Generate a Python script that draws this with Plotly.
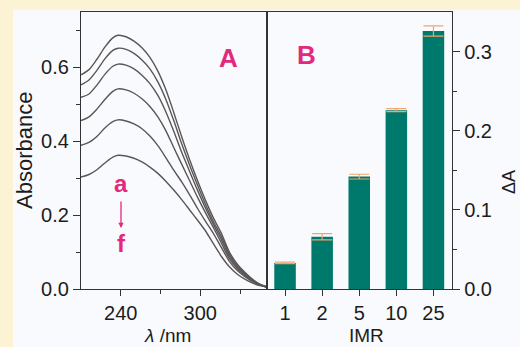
import plotly.graph_objects as go

# ---- data -------------------------------------------------------------
wavelength = [210, 216, 222, 228, 234, 238, 244, 250, 256, 262, 268, 274, 280,
              286, 292, 298, 304, 310, 316, 322, 328, 334, 340, 345, 350]

spec_a = [0.580, 0.594, 0.622, 0.655, 0.680, 0.687, 0.683, 0.671, 0.653, 0.627, 0.590, 0.540, 0.478,
          0.412, 0.350, 0.293, 0.240, 0.192, 0.150, 0.100, 0.067, 0.044, 0.025, 0.013, 0.006]
spec_b = [0.553, 0.566, 0.592, 0.623, 0.646, 0.652, 0.649, 0.638, 0.620, 0.596, 0.561, 0.514, 0.456,
          0.393, 0.335, 0.281, 0.229, 0.182, 0.141, 0.094, 0.063, 0.042, 0.023, 0.012, 0.006]
spec_c = [0.519, 0.528, 0.552, 0.581, 0.603, 0.609, 0.606, 0.596, 0.579, 0.556, 0.524, 0.480, 0.427,
          0.370, 0.318, 0.267, 0.219, 0.175, 0.133, 0.088, 0.059, 0.039, 0.022, 0.012, 0.006]
spec_d = [0.456, 0.466, 0.487, 0.513, 0.535, 0.542, 0.539, 0.530, 0.515, 0.494, 0.466, 0.429, 0.383,
          0.338, 0.293, 0.248, 0.206, 0.166, 0.124, 0.082, 0.055, 0.036, 0.020, 0.011, 0.005]
spec_e = [0.389, 0.397, 0.413, 0.436, 0.453, 0.458, 0.455, 0.447, 0.434, 0.414, 0.388, 0.356, 0.322,
          0.290, 0.255, 0.218, 0.183, 0.150, 0.112, 0.075, 0.050, 0.033, 0.019, 0.011, 0.005]
spec_f = [0.303, 0.310, 0.323, 0.341, 0.357, 0.362, 0.360, 0.354, 0.344, 0.330, 0.313, 0.292, 0.268,
          0.242, 0.214, 0.186, 0.157, 0.122, 0.088, 0.060, 0.040, 0.026, 0.015, 0.009, 0.005]
spectra = [spec_a, spec_b, spec_c, spec_d, spec_e, spec_f]

imr_labels = ["1", "2", "5", "10", "25"]
delta_a = [0.033, 0.066, 0.142, 0.226, 0.326]
delta_a_err = [0.001, 0.004, 0.003, 0.002, 0.0065]

# ---- styling ------------------------------------------------------------
W, H = 520, 347
ML, MR, MT, MB = 81, 68, 12, 58
PW, PH = W - ML - MR, H - MT - MB

FONT = "Liberation Sans, Arial, sans-serif"
AXIS_COL = "#333333"
LINE_COL = "#5b5656"
BAR_COL = "#00796d"
ERR_COL = "#f2a56c"
PINK = "#e4287c"
CREAM = "#fcf2d4"
WHITE = "#f8fafd"


def px_x(px):
    return (px - ML) / PW


def px_y(py):
    return (H - MB - py) / PH


fig = go.Figure()

for ys in spectra:
    fig.add_trace(go.Scatter(
        x=wavelength, y=ys, mode="lines", xaxis="x", yaxis="y",
        line=dict(color=LINE_COL, width=1.4, shape="spline", smoothing=0.8),
        showlegend=False, hoverinfo="skip",
    ))

fig.add_trace(go.Bar(
    x=imr_labels, y=delta_a, xaxis="x2", yaxis="y2", width=0.58,
    marker=dict(color=BAR_COL, line=dict(width=0)),
    error_y=dict(type="data", array=delta_a_err, color=ERR_COL, thickness=1.2, width=10),
    showlegend=False,
))

tick_font = dict(family=FONT, size=20, color="#1c1c1c")
common_axis = dict(showline=True, linecolor=AXIS_COL, linewidth=1.3, mirror=True,
                   ticks="outside", tickcolor=AXIS_COL, tickwidth=1.3, ticklen=7,
                   showgrid=False, zeroline=False, tickfont=tick_font)
bottom_axis = dict(common_axis, ticklen=6)
minor_style = dict(ticks="outside", ticklen=4, tickcolor=AXIS_COL, tickwidth=1.1)

fig.update_layout(
    width=W, height=H,
    margin=dict(l=ML, r=MR, t=MT, b=MB, pad=0),
    paper_bgcolor=CREAM, plot_bgcolor=WHITE,
    xaxis=dict(domain=[0, 0.5], anchor="y", range=[210, 350],
               tickvals=[240, 300],
               minor=dict(tickvals=[270, 330], **minor_style),
               **bottom_axis),
    yaxis=dict(domain=[0, 1], anchor="x", range=[0, 0.75],
               tickvals=[0, 0.2, 0.4, 0.6], tickformat=".1f",
               minor=dict(tickvals=[0.1, 0.3, 0.5, 0.7], **minor_style),
               **common_axis),
    xaxis2=dict(domain=[0.5, 1], anchor="y2", range=[-0.5, 4.5],
                type="category", **bottom_axis),
    yaxis2=dict(domain=[0, 1], anchor="x2", side="right", range=[0, 0.35],
                tickvals=[0, 0.1, 0.2, 0.3], tickformat=".1f",
                minor=dict(tickvals=[0.05, 0.15, 0.25], **minor_style),
                **common_axis),
)

# white page area inside the cream border strips
fig.add_shape(type="rect", xref="paper", yref="paper", layer="below",
              x0=px_x(13), x1=px_x(W + 5), y0=px_y(H + 5), y1=px_y(10),
              fillcolor=WHITE, line=dict(width=0))

ann = []


def label(text, px, py, size, color="#1c1c1c", angle=0, bold=False):
    t = f"<b>{text}</b>" if bold else text
    ann.append(dict(text=t, x=px_x(px), y=px_y(py), xref="paper", yref="paper",
                    xanchor="center", yanchor="middle", showarrow=False,
                    textangle=angle, font=dict(family=FONT, size=size, color=color)))


label("Absorbance", 24, 150, 22, angle=-90)
label("<i>λ</i> /nm", 167, 335.5, 19)
label("IMR", 366, 335.5, 19)
label("ΔA", 509, 182, 18, angle=-90)
label("A", 228, 58, 26, color=PINK, bold=True)
label("B", 306, 55, 26, color=PINK, bold=True)
label("a", 121, 184, 24, color=PINK, bold=True)
label("f", 121, 243, 24, color=PINK, bold=True)

# arrow from a to f
ann.append(dict(x=px_x(121), y=px_y(228), xref="paper", yref="paper",
                ax=0, ay=-28, axref="pixel", ayref="pixel",
                text="", showarrow=True, arrowhead=2, arrowsize=0.8,
                arrowwidth=1.3, arrowcolor=PINK))

fig.update_layout(annotations=ann)

fig.write_html("out.html")
